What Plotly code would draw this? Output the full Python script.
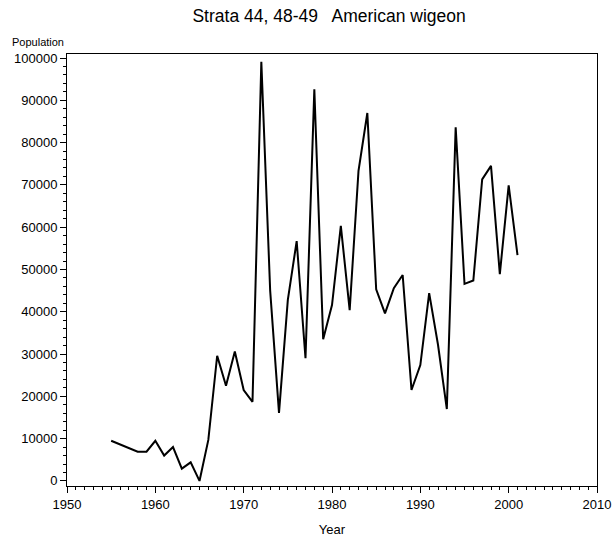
import plotly.graph_objects as go

years = list(range(1955, 2002))
population = [
    9500, 8600, 7800, 6900, 6900, 9500, 6000, 8000, 2900, 4400,
    0, 9700, 29600, 22500, 30600, 21500, 18700, 99100, 45000, 16100,
    42800, 56700, 29000, 92600, 33500, 41600, 60300, 40400, 73300, 87000,
    45300, 39600, 45600, 48700, 21500, 27400, 44400, 32200, 17000, 83600,
    46600, 47400, 71300, 74500, 48900, 69900, 53400,
]

fig = go.Figure(go.Scatter(
    x=years, y=population, mode="lines",
    line=dict(color="black", width=2),
))

axis_font = dict(family="Liberation Sans, Arial", size=13, color="black")

fig.update_layout(
    width=614, height=539,
    margin=dict(l=67, r=17, t=54, b=53),
    paper_bgcolor="white", plot_bgcolor="white",
    showlegend=False,
    font=axis_font,
    title=dict(text="Strata 44, 48-49   American wigeon", x=0.536, xanchor="center",
               y=0.970, yanchor="middle", automargin=False,
               font=dict(size=17.5, family="Liberation Sans, Arial")),
    xaxis=dict(
        range=[1950, 2010], tickvals=[1950, 1960, 1970, 1980, 1990, 2000, 2010],
        ticks="outside", ticklen=6, tickcolor="black", showgrid=False, zeroline=False,
        showline=True, linecolor="black", linewidth=1, mirror=True, automargin=False,
        minor=dict(dtick=1, ticks="outside", ticklen=3, tickcolor="black", showgrid=False),
        title=dict(text="Year", font=dict(size=13), standoff=14),
    ),
    yaxis=dict(
        range=[-1200, 100950], tickvals=list(range(0, 100001, 10000)),
        tickformat="d", ticks="outside", ticklen=6, tickcolor="black",
        showgrid=False, zeroline=False, automargin=False,
        showline=True, linecolor="black", linewidth=1, mirror=True,
        minor=dict(dtick=2000, ticks="outside", ticklen=3, tickcolor="black", showgrid=False),
    ),
    annotations=[dict(text="Population", xref="paper", yref="paper", x=-0.1075, y=1.009,
                      xanchor="left", yanchor="bottom", showarrow=False,
                      font=dict(size=11))],
)

# drop the default page margin so the figure fills the window exactly
fig.write_html("out.html", config={"displayModeBar": False},
               post_script="document.body.style.margin='0';")
